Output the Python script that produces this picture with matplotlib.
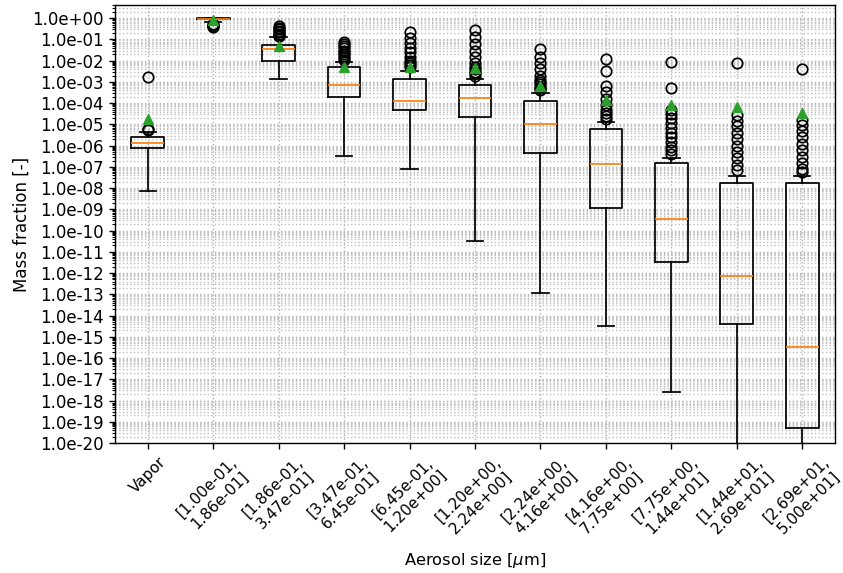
import numpy as np
import matplotlib
matplotlib.use("Agg")
import matplotlib.pyplot as plt
from matplotlib.ticker import LogLocator, FormatStrFormatter, NullFormatter

categories = ["Vapor", "[1.00e-01,\n1.86e-01]", "[1.86e-01,\n3.47e-01]", "[3.47e-01,\n6.45e-01]",
              "[6.45e-01,\n1.20e+00]", "[1.20e+00,\n2.24e+00]", "[2.24e+00,\n4.16e+00]",
              "[4.16e+00,\n7.75e+00]", "[7.75e+00,\n1.44e+01]", "[1.44e+01,\n2.69e+01]",
              "[2.69e+01,\n5.00e+01]"]

medians = [1.4e-6, 0.95, 3.5e-2, 7.2e-4, 1.3e-4, 1.7e-4, 1.1e-5, 1.4e-7, 3.4e-10, 7.0e-13, 3.2e-16]
q1 = [7.6e-7, 0.90, 9.8e-3, 1.9e-4, 4.7e-5, 2.3e-5, 4.6e-7, 1.2e-9, 3.2e-12, 4.0e-15, 5.0e-20]
q3 = [2.7e-6, 0.98, 5.5e-2, 4.8e-3, 1.4e-3, 7.1e-4, 1.3e-4, 6.2e-6, 1.5e-7, 1.8e-8, 1.7e-8]
whislo = [7.4e-9, 0.70, 1.4e-3, 3.2e-7, 8.1e-8, 3.3e-11, 1.2e-13, 3.3e-15, 2.5e-18, 1e-22, 1e-25]
whishi = [4.6e-6, 1.0, 0.13, 9.0e-3, 3.4e-3, 1.35e-3, 3.0e-4, 1.35e-5, 2.6e-7, 3.9e-8, 3.8e-8]
means = [1.8e-5, 0.80, 4.7e-2, 5.0e-3, 5.2e-3, 4.5e-3, 6.5e-4, 1.4e-4, 8.3e-5, 6.9e-5, 3.4e-5]
fliers = [
    [1.8e-3, 6.0e-6, 5.5e-6],
    [0.55, 0.50, 0.45, 0.42, 0.40],
    [0.42, 0.35, 0.30, 0.25, 0.22, 0.19, 0.17, 0.15, 0.14],
    [0.079, 0.06, 0.05, 0.04, 0.03, 0.025, 0.02, 0.016, 0.013, 0.011],
    [0.22, 0.12, 0.07, 0.04, 0.025, 0.015, 0.01, 0.008, 0.006, 0.005],
    [0.28, 0.13, 0.06, 0.03, 0.015, 0.008, 0.005, 0.004, 0.003, 0.0025, 0.002],
    [0.035, 0.015, 0.008, 0.004, 0.002, 0.0013, 0.001, 0.0008, 0.0006, 0.0005, 0.0004],
    [1.2e-2, 3.3e-3, 6.5e-4, 3.2e-4, 1.5e-4, 8e-5, 5e-5, 3.5e-5, 2.5e-5, 1.8e-5],
    [8.5e-3, 5e-4, 5e-5, 3e-5, 2e-5, 1.2e-5, 7e-6, 4e-6, 2.5e-6, 1.5e-6, 9e-7, 6e-7, 4e-7],
    [7.6e-3, 2.8e-5, 1.5e-5, 8e-6, 4e-6, 2e-6, 1e-6, 5e-7, 2.5e-7, 1.2e-7, 7e-8],
    [4e-3, 1.6e-5, 9e-6, 5e-6, 2.5e-6, 1.2e-6, 6e-7, 3e-7, 1.5e-7, 8e-8, 6e-8],
]

stats = []
for i in range(len(categories)):
    stats.append(dict(med=medians[i], q1=q1[i], q3=q3[i], whislo=whislo[i],
                      whishi=whishi[i], mean=means[i], fliers=fliers[i], label=categories[i]))

lw = 1.25
fig = plt.figure(figsize=(8.43, 5.73), dpi=100)
ax = fig.add_axes([115/843, 1-443/573, 720/843, 438/573])
ax.bxp(stats, showmeans=True, showfliers=True,
       boxprops=dict(linewidth=lw, color="black"),
       whiskerprops=dict(linewidth=lw, color="black"),
       capprops=dict(linewidth=lw, color="black"),
       medianprops=dict(linewidth=lw, color="C1"),
       meanprops=dict(marker="^", markerfacecolor="C2", markeredgecolor="C2", markersize=7.5),
       flierprops=dict(marker="o", markerfacecolor="none", markeredgecolor="black",
                       markersize=7.5, markeredgewidth=lw))
ax.set_yscale("log")
ax.set_ylim(1e-20, 4.2)
ax.set_xlim(0.5, 11.5)

ax.yaxis.set_major_locator(LogLocator(base=10, numticks=100))
ax.yaxis.set_major_formatter(FormatStrFormatter("%.1e"))
ax.yaxis.set_minor_locator(LogLocator(base=10, subs=np.arange(2, 10), numticks=1000))
ax.yaxis.set_minor_formatter(NullFormatter())

ax.grid(True, which="major", linestyle=":", color="0.7", linewidth=1.0)
ax.grid(True, which="minor", axis="y", linestyle=":", color="0.75", linewidth=1.0)
ax.set_axisbelow(True)

for s in ax.spines.values():
    s.set_linewidth(1.0)
ax.tick_params(axis="y", which="major", labelsize=12, width=1.0, length=4.5)
ax.tick_params(axis="x", which="major", labelsize=11, width=1.0, length=4.5)
ax.tick_params(axis="y", which="minor", width=0.8, length=2.5)
plt.setp(ax.get_xticklabels(), rotation=45, ha="center")

ax.set_ylabel("Mass fraction [-]", fontsize=12, labelpad=1)
ax.set_xlabel(r"Aerosol size [$\mu$m]", fontsize=11.7, labelpad=9)

fig.savefig("out.png", dpi=100)
